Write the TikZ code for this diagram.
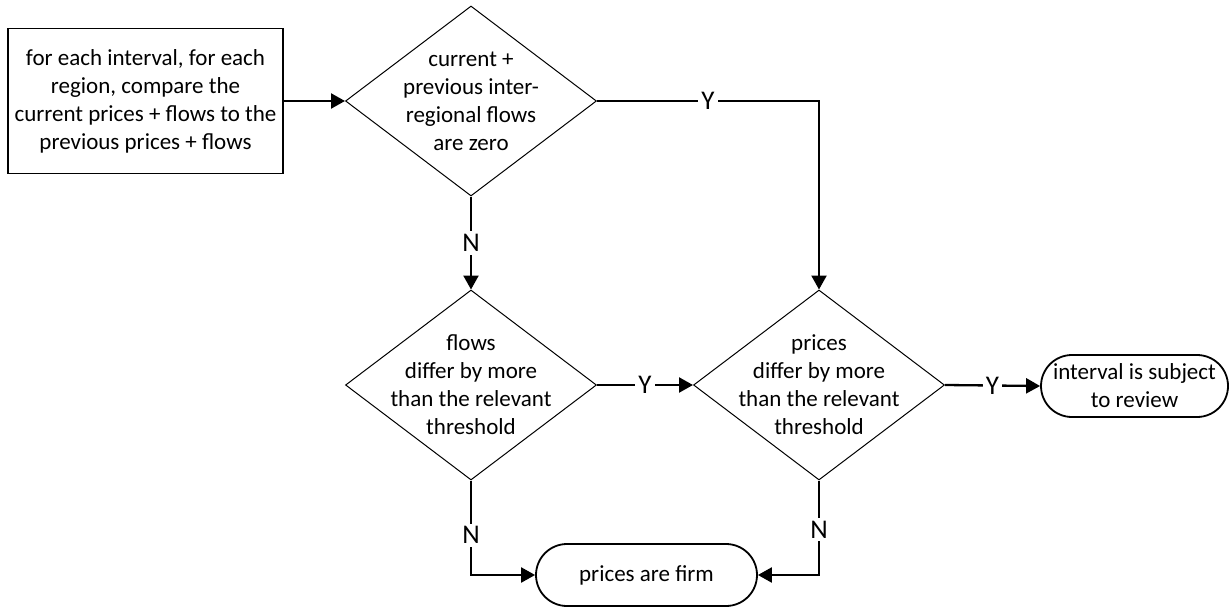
\documentclass[tikz,border=0pt]{standalone}
\usepackage{fontspec}
\setmainfont{Carlito}
\usetikzlibrary{shapes.geometric,arrows.meta}

\begin{document}
\begin{tikzpicture}[
    x=1pt, y=-1pt,
    font=\fontsize{23}{28}\selectfont,
    processnode/.style={rectangle, draw=black, line width=1.2pt, minimum width=275pt, minimum height=145pt, align=center},
    decisionnode/.style={diamond, draw=black, line width=1pt, minimum width=251pt, minimum height=190pt, inner sep=-45pt, align=center},
    terminalnode/.style={rectangle, rounded corners=31pt, draw=black, line width=1.8pt, minimum height=62pt, align=center},
    flow/.style={-{Triangle[length=14pt, width=15pt]}, line width=2.3pt},
    answer/.style={fill=white, inner sep=3pt, font=\fontsize{27}{30}\selectfont}
    ]
    \useasboundingbox (0,0) rectangle (1231,610);
    %Nodes
    \node[processnode]  (start)     at (145.5,101)  {for each interval, for each\\region, compare the\\current prices + flows to the\\previous prices + flows};
    \node[decisionnode] (zeroflow)  at (471,101)    {current +\\previous inter-\\regional flows\\are zero};
    \node[decisionnode] (flowdiff)  at (471,385)    {flows\\differ by more\\than the relevant\\threshold};
    \node[decisionnode] (pricediff) at (819,385)    {prices\\differ by more\\than the relevant\\threshold};
    \node[terminalnode, minimum width=187pt] (review) at (1134.5,386) {interval is subject\\to review};
    \node[terminalnode, minimum width=221pt] (firm)   at (646.5,575)  {prices are firm};

    %Lines
    \draw[flow] (start.east) -- (zeroflow.west);
    \draw[flow] (zeroflow.east) -| node[answer, pos=0.25] {Y} (pricediff.north);
    \draw[flow] (zeroflow.south) -- node[answer] {N} (flowdiff.north);
    \draw[flow] (flowdiff.east) -- node[answer] {Y} (pricediff.west);
    \draw[flow] (pricediff.east) -- node[answer] {Y} (review.west);
    \draw[flow] (flowdiff.south) |- node[answer, pos=0.29] {N} (firm.west);
    \draw[flow] (pricediff.south) |- node[answer, pos=0.26] {N} (firm.east);
\end{tikzpicture}
\end{document}
